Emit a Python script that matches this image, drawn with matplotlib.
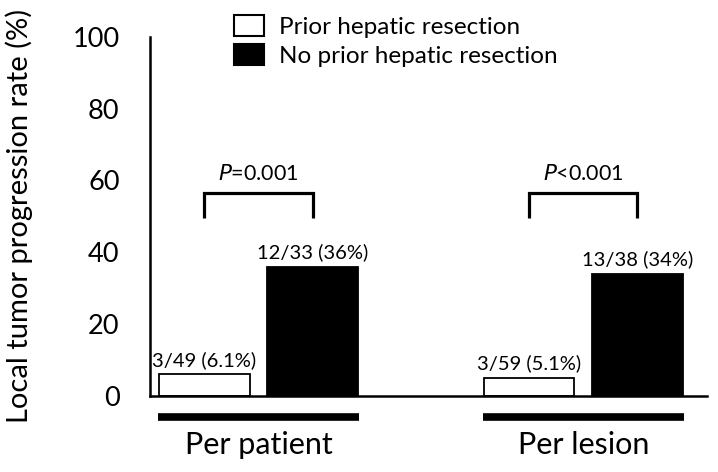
import numpy as np
import matplotlib.pyplot as plt
from matplotlib.patches import Patch

plt.rcParams['font.family'] = ['Lato', 'DejaVu Sans']

groups = ['Per patient', 'Per lesion']
prior = [6.1, 5.1]
no_prior = [36, 34]
prior_labels = ['3/49 (6.1%)', '3/59 (5.1%)']
no_prior_labels = ['12/33 (36%)', '13/38 (34%)']
p_texts = [('P', '=0.001'), ('P', '<0.001')]
series_names = ['Prior hepatic resection', 'No prior hepatic resection']

x = np.arange(len(groups))
w = 0.28
off = 0.167

fig = plt.figure(figsize=(7.18, 4.72), dpi=100)
ax = fig.add_axes([0.209, 0.161, 0.776, 0.761])

ax.bar(x - off, prior, w, color='white', edgecolor='black', linewidth=1.3)
ax.bar(x + off, no_prior, w, color='black', edgecolor='black', linewidth=1.3)

for i in range(len(groups)):
    ax.text(x[i] - off, prior[i] + 1.5, prior_labels[i], ha='center', va='bottom', fontsize=14.5)
    ax.text(x[i] + off, no_prior[i] + 1.5, no_prior_labels[i], ha='center', va='bottom', fontsize=14.5)
    # significance bracket
    bx = [x[i] - off, x[i] - off, x[i] + off, x[i] + off]
    by = [49.5, 56.5, 56.5, 49.5]
    ax.plot(bx, by, color='black', linewidth=2.3, solid_capstyle='butt', solid_joinstyle='miter')
    ax.text(x[i], 59.0, r'$\it{P}$' + p_texts[i][1], ha='center', va='bottom', fontsize=15.5)
    # group underline
    ax.plot([x[i] - 0.31, x[i] + 0.31], [-5.9, -5.9], color='black', linewidth=5.5,
            solid_capstyle='butt', clip_on=False)
    ax.text(x[i], -9.8, groups[i], ha='center', va='top', fontsize=22)

ax.set_xlim(-0.334, 1.382)
ax.set_ylim(0, 100)
ax.set_yticks([0, 20, 40, 60, 80, 100])
ax.set_xticks([])
ax.tick_params(axis='y', length=0, pad=22, labelsize=19.5)
for s in ['top', 'right']:
    ax.spines[s].set_visible(False)
ax.spines['left'].set_linewidth(1.8)
ax.spines['bottom'].set_linewidth(1.8)
ax.set_ylabel('Local tumor progression rate (%)', fontsize=21, labelpad=28)

handles = [Patch(facecolor='white', edgecolor='black', linewidth=1.5),
           Patch(facecolor='black', edgecolor='black', linewidth=1.5)]
fig.legend(handles, series_names, loc='upper left', bbox_to_anchor=(0.296, 1.015),
           frameon=False, fontsize=17.5, handlelength=1.2, handleheight=0.95,
           handletextpad=0.65, labelspacing=0.25)

fig.savefig('out.png', dpi=100)
